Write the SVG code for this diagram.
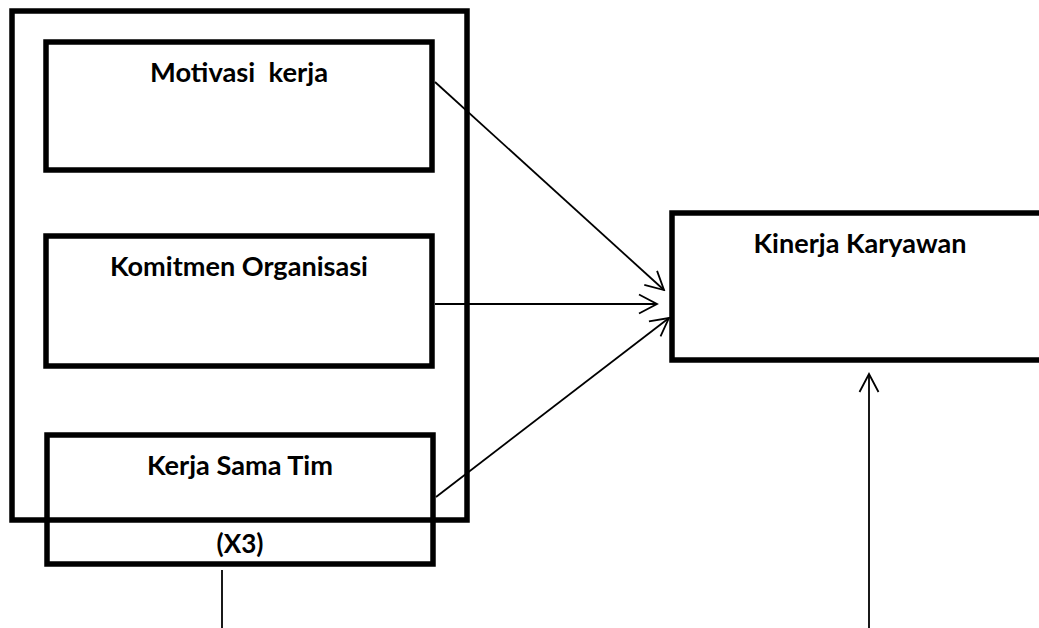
<svg xmlns="http://www.w3.org/2000/svg" width="1039" height="628" viewBox="0 0 1039 628">
<style>
.box{fill:none;stroke:#000;stroke-width:5.5}
.lbl{font-family:Lato,"Open Sans","Liberation Sans",sans-serif;font-weight:bold;font-size:26px;fill:#000;text-anchor:middle}
.con{fill:none;stroke:#000;stroke-width:1.8}
</style>
<defs>
<marker id="arr" viewBox="-22 -12 24 24" refX="0" refY="0" markerWidth="24" markerHeight="24" markerUnits="userSpaceOnUse" orient="auto">
<path d="M-18,-9.5 L0,0 L-18,9.5" fill="none" stroke="#000" stroke-width="1.8"/>
</marker>
</defs>
<rect width="1039" height="628" fill="#fff"/>
<g id="outer"><rect class="box" x="12" y="11" width="455" height="509"/></g>
<g id="motivasi"><rect class="box" x="46" y="42" width="386" height="128"/><text class="lbl" x="239" y="82" textLength="178" lengthAdjust="spacingAndGlyphs" xml:space="preserve">Motivasi  kerja</text></g>
<g id="komitmen"><rect class="box" x="46" y="236" width="386" height="130"/><text class="lbl" x="239" y="276" textLength="258" lengthAdjust="spacingAndGlyphs">Komitmen Organisasi</text></g>
<g id="kerjasama"><rect class="box" x="47" y="435" width="386" height="129"/><text class="lbl" x="240" y="475" textLength="186" lengthAdjust="spacingAndGlyphs">Kerja Sama Tim</text><text class="lbl" x="240" y="553" textLength="47" lengthAdjust="spacingAndGlyphs">(X3)</text></g>
<g id="kinerja"><rect class="box" x="672" y="213" width="380" height="147"/><text class="lbl" x="860" y="253" textLength="213" lengthAdjust="spacingAndGlyphs">Kinerja Karyawan</text></g>
<g id="connectors">
<line class="con" x1="435" y1="82" x2="664" y2="290" marker-end="url(#arr)"/>
<line class="con" x1="435" y1="304" x2="657" y2="304" marker-end="url(#arr)"/>
<line class="con" x1="436" y1="497" x2="669" y2="318" marker-end="url(#arr)"/>
<line class="con" x1="869" y1="628" x2="869" y2="374" marker-end="url(#arr)"/>
<line class="con" x1="222" y1="570" x2="222" y2="628"/>
</g>
</svg>
